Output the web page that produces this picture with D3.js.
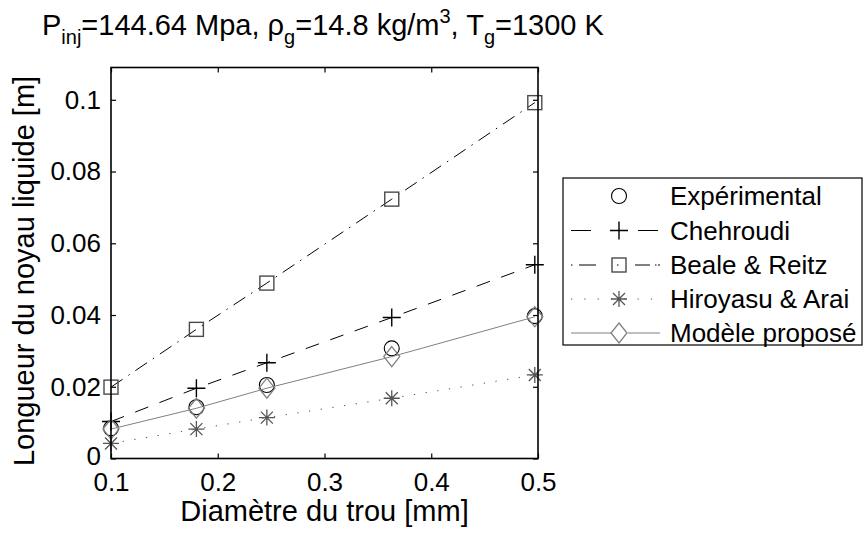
<!DOCTYPE html>
<html>
<head>
<meta charset="utf-8">
<script src="https://cdn.jsdelivr.net/npm/d3@7"></script>
<style>
  html, body { margin: 0; padding: 0; background: #fff; }
  svg { display: block; font-family: "Liberation Sans", Arial, Helvetica, sans-serif; }
</style>
</head>
<body>
<svg id="chart" width="865" height="534"></svg>
<script>
// ---- data ----
const xTicks = [0.1, 0.2, 0.3, 0.4, 0.5];
const yTicks = [0, 0.02, 0.04, 0.06, 0.08, 0.1];
const xTickLabels = ["0.1", "0.2", "0.3", "0.4", "0.5"];
const yTickLabels = ["0", "0.02", "0.04", "0.06", "0.08", "0.1"];
const diameters   = [0.1, 0.18, 0.246, 0.363, 0.497];
const experimental = [0.0084, 0.0143, 0.0205, 0.0307, 0.0397];
const chehroudi    = [0.0103, 0.0196, 0.0267, 0.0393, 0.0540];
const bealeReitz   = [0.0199, 0.0360, 0.0489, 0.0723, 0.0992];
const hiroyasuArai = [0.0042, 0.0082, 0.0114, 0.0168, 0.0233];
const modele       = [0.0082, 0.0140, 0.0196, 0.0284, 0.0395];
const seriesNames  = ["Expérimental", "Chehroudi", "Beale & Reitz", "Hiroyasu & Arai", "Modèle proposé"];

// ---- layout ----
const L = 111, R = 538, T = 67.5, B = 458.5;
const FS = 26, LFS = 29;
const svg = d3.select("#chart");
const x = d3.scaleLinear().domain([0.1, 0.5]).range([L, R]);
const y = d3.scaleLinear().domain([0, 0.109]).range([B, T]);

// ---- series styles ----
const series = [
  { name: seriesNames[0], vals: experimental, line: null, marker: "circle", color: "#000" },
  { name: seriesNames[1], vals: chehroudi, line: { color: "#000", dash: "14,12", legendDash: "20,47,20" }, marker: "plus", color: "#000" },
  { name: seriesNames[2], vals: bealeReitz, line: { color: "#000", dash: "14,7,1.5,7", legendDash: "1.5,6.5,17,21,1.5,16.5,15,5,1.5" }, marker: "square", color: "#4a4a4a" },
  { name: seriesNames[3], vals: hiroyasuArai, line: { color: "#555", dash: "1.3,10.5", legendDash: "1.3,12" }, marker: "star", color: "#555" },
  { name: seriesNames[4], vals: modele, line: { color: "#808080", dash: null, legendDash: "41,16,40" }, marker: "diamond", color: "#808080" }
];

function drawMarker(g, type, cx, cy, color) {
  const s = { fill: "none", stroke: color, "stroke-width": 1.1 };
  let el;
  if (type === "circle") {
    el = g.append("circle").attr("cx", cx).attr("cy", cy).attr("r", 7.5);
  } else if (type === "plus") {
    el = g.append("path").attr("d", `M${cx-9},${cy}H${cx+9}M${cx},${cy-9}V${cy+9}`);
    s["stroke-width"] = 1.4;
  } else if (type === "square") {
    el = g.append("rect").attr("x", cx-7).attr("y", cy-7).attr("width", 14).attr("height", 14);
    s["stroke-width"] = 1.4;
  } else if (type === "star") {
    const a = 8, d = 6;
    el = g.append("path").attr("d",
      `M${cx-a},${cy}H${cx+a}M${cx},${cy-a}V${cy+a}M${cx-d},${cy-d}L${cx+d},${cy+d}M${cx-d},${cy+d}L${cx+d},${cy-d}`);
    s["stroke-width"] = 1.3;
  } else if (type === "diamond") {
    el = g.append("path").attr("d", `M${cx},${cy-10}L${cx+8},${cy}L${cx},${cy+10}L${cx-8},${cy}Z`);
    s["stroke-width"] = 1.3;
  }
  Object.entries(s).forEach(([k, v]) => el.attr(k, v));
}

// ---- plot contents ----
const plot = svg.append("g");
series.forEach(sr => {
  const pts = diameters.map((d, i) => [d, sr.vals[i]]);
  if (sr.line) {
    plot.append("path")
      .datum(pts)
      .attr("d", d3.line().x(p => x(p[0])).y(p => y(p[1])))
      .attr("fill", "none")
      .attr("stroke", sr.line.color)
      .attr("stroke-width", 1)
      .attr("stroke-dasharray", sr.line.dash);
  }
  const mg = plot.append("g");
  pts.forEach(p => drawMarker(mg, sr.marker, x(p[0]), y(p[1]), sr.color));
});

// ---- axes ----
const fmtX = (d) => xTickLabels[xTicks.indexOf(d)];
const fmtY = (d) => yTickLabels[yTicks.indexOf(d)];
const axB = svg.append("g").attr("transform", `translate(0,${B})`)
  .call(d3.axisBottom(x).tickValues(xTicks).tickFormat(fmtX).tickSize(-5).tickPadding(14.5));
const axL = svg.append("g").attr("transform", `translate(${L},0)`)
  .call(d3.axisLeft(y).tickValues(yTicks).tickFormat(fmtY).tickSize(-5).tickPadding(10));
const axT = svg.append("g").attr("transform", `translate(0,${T})`)
  .call(d3.axisTop(x).tickValues(xTicks).tickFormat("").tickSize(-5));
const axR = svg.append("g").attr("transform", `translate(${R},0)`)
  .call(d3.axisRight(y).tickValues(yTicks).tickFormat("").tickSize(-5));
[axB, axL, axT, axR].forEach(a => {
  a.select(".domain").remove();
  a.selectAll(".tick line").attr("stroke", "#000").attr("stroke-width", 1.2);
  a.selectAll(".tick text").attr("font-size", FS).attr("fill", "#000")
    .attr("font-family", "Liberation Sans, Arial, sans-serif");
});
// lift the "0" label a little so it clears the x tick labels
axL.selectAll(".tick text").filter(d => d === 0).attr("dy", "0.22em");
svg.append("rect").attr("x", L).attr("y", T).attr("width", R - L).attr("height", B - T)
  .attr("fill", "none").attr("stroke", "#000").attr("stroke-width", 1.6);

// ---- axis labels ----
svg.append("text").attr("x", (L + R) / 2).attr("y", 521).attr("text-anchor", "middle")
  .attr("font-size", LFS).text("Diamètre du trou [mm]");
svg.append("text").attr("transform", `translate(34,271) rotate(-90)`)
  .attr("text-anchor", "middle").attr("font-size", LFS).text("Longueur du noyau liquide [m]");

// ---- title ----
const title = svg.append("text").attr("x", 42).attr("y", 35).attr("font-size", LFS);
const sub = 20, shift = 9;
title.append("tspan").text("P");
title.append("tspan").attr("font-size", sub).attr("dy", shift).text("inj");
title.append("tspan").attr("dy", -shift).text("=144.64 Mpa, ρ");
title.append("tspan").attr("font-size", sub).attr("dy", shift).text("g");
title.append("tspan").attr("dy", -shift).text("=14.8 kg/m");
title.append("tspan").attr("font-size", sub).attr("dy", -12).text("3");
title.append("tspan").attr("dy", 12).text(", T");
title.append("tspan").attr("font-size", sub).attr("dy", shift).text("g");
title.append("tspan").attr("dy", -shift).text("=1300 K");

// ---- legend ----
const lg = svg.append("g");
lg.append("rect").attr("x", 563).attr("y", 178).attr("width", 299).attr("height", 167)
  .attr("fill", "#fff").attr("stroke", "#000").attr("stroke-width", 1.2);
const rowY = [196, 230.5, 265, 299, 333];
series.forEach((sr, i) => {
  const yy = rowY[i];
  if (sr.line) {
    lg.append("line").attr("x1", 571).attr("x2", 660).attr("y1", yy).attr("y2", yy)
      .attr("stroke", sr.line.color).attr("stroke-width", 1)
      .attr("stroke-dasharray", sr.line.legendDash);
  }
  drawMarker(lg, sr.marker, 619, yy, sr.color);
  lg.append("text").attr("x", 670).attr("y", yy).attr("dy", "0.36em")
    .attr("font-size", FS).text(sr.name);
});
</script>
</body>
</html>
